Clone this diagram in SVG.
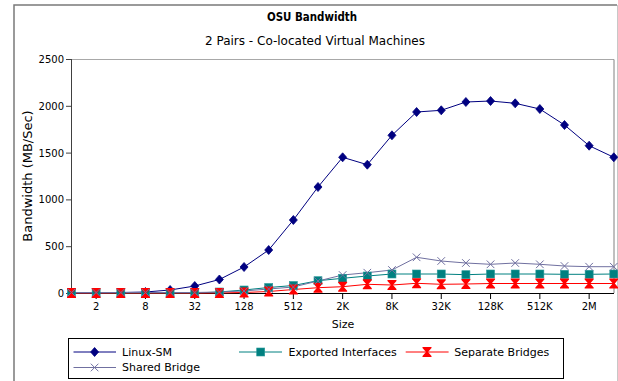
<svg xmlns="http://www.w3.org/2000/svg" xmlns:xlink="http://www.w3.org/1999/xlink" width="618" height="381" viewBox="0 0 618 381">
<style>
text{font-family:"DejaVu Sans","Liberation Sans",sans-serif;fill:#000}
.title{font-size:12px;font-weight:bold;text-anchor:middle}
.sub{font-size:12px;text-anchor:middle}
.yl{font-size:10px;text-anchor:end}
.xl{font-size:10px;text-anchor:middle}
.at{font-size:11px;text-anchor:middle}
.yt{font-size:13px;text-anchor:middle}
.lg{font-size:11px}
.s1{fill:none;stroke:#000080;stroke-width:1}
.s2{fill:none;stroke:#008080;stroke-width:1}
.s3{fill:none;stroke:#ff0000;stroke-width:1}
.s4{fill:none;stroke:#7070a0;stroke-width:1}
</style>
<defs>
<polygon id="dia" points="0,-4.5 4,0 0,4.5 -4,0" fill="#000080" stroke="#000080" stroke-width="0.8"/>
<rect id="sq" x="-4" y="-4" width="8" height="8" fill="#008080" stroke="#2a9a9a" stroke-width="0.6"/>
<polygon id="hg" points="-4.5,-5 4.5,-5 4.5,-4 1,0 4.5,4 4.5,5 -4.5,5 -4.5,4 -1,0 -4.5,-4" fill="#ff0000"/>
<path id="xx" d="M-3.8,-3.8L3.8,3.8M-3.8,3.8L3.8,-3.8" stroke="#7070a0" stroke-width="1" fill="none"/>
</defs>
<rect x="0" y="0" width="618" height="381" fill="#fff"/>
<g id="frame" fill="none">
<path d="M14,382V5H617" stroke="#7a7a7a" stroke-width="1.5"/>
<line x1="617.5" y1="5" x2="617.5" y2="382" stroke="#c8c8c8" stroke-width="1"/>
</g>
<text class="title" x="312" y="21" textLength="90" lengthAdjust="spacingAndGlyphs">OSU Bandwidth</text>
<text class="sub" x="315" y="45">2 Pairs - Co-located Virtual Machines</text>
<g id="plot">
<line x1="71.5" y1="59.5" x2="614" y2="59.5" stroke="#a8a8a8" stroke-width="1"/>
<line x1="614" y1="59.5" x2="614" y2="293" stroke="#808080" stroke-width="1"/>
<line x1="71.5" y1="59" x2="71.5" y2="293.5" stroke="#404040" stroke-width="1"/>
<line x1="71" y1="293.5" x2="614" y2="293.5" stroke="#000" stroke-width="1"/>
<g stroke="#404040" stroke-width="1">
<line x1="66" y1="59.5" x2="71.5" y2="59.5"/><line x1="66" y1="106.3" x2="71.5" y2="106.3"/><line x1="66" y1="153.1" x2="71.5" y2="153.1"/><line x1="66" y1="199.9" x2="71.5" y2="199.9"/><line x1="66" y1="246.7" x2="71.5" y2="246.7"/><line x1="66" y1="293.5" x2="71.5" y2="293.5"/>
</g>
<g stroke="#000" stroke-width="1">
<line x1="96.15" y1="293" x2="96.15" y2="299"/><line x1="145.45" y1="293" x2="145.45" y2="299"/><line x1="194.75" y1="293" x2="194.75" y2="299"/><line x1="244.05" y1="293" x2="244.05" y2="299"/><line x1="293.35" y1="293" x2="293.35" y2="299"/><line x1="342.65" y1="293" x2="342.65" y2="299"/><line x1="391.95" y1="293" x2="391.95" y2="299"/><line x1="441.25" y1="293" x2="441.25" y2="299"/><line x1="490.55" y1="293" x2="490.55" y2="299"/><line x1="539.85" y1="293" x2="539.85" y2="299"/><line x1="589.15" y1="293" x2="589.15" y2="299"/>
</g>
<text class="yl" x="64" y="63">2500</text>
<text class="yl" x="64" y="110">2000</text>
<text class="yl" x="64" y="157">1500</text>
<text class="yl" x="64" y="203">1000</text>
<text class="yl" x="64" y="250">500</text>
<text class="yl" x="64" y="297">0</text>
<text class="xl" x="96.15" y="310">2</text>
<text class="xl" x="145.45" y="310">8</text>
<text class="xl" x="194.75" y="310">32</text>
<text class="xl" x="244.05" y="310">128</text>
<text class="xl" x="293.35" y="310">512</text>
<text class="xl" x="342.65" y="310">2K</text>
<text class="xl" x="391.95" y="310">8K</text>
<text class="xl" x="441.25" y="310">32K</text>
<text class="xl" x="490.55" y="310">128K</text>
<text class="xl" x="539.85" y="310">512K</text>
<text class="xl" x="589.15" y="310">2M</text>
<text class="at" x="343" y="328">Size</text>
<text class="yt" transform="translate(32,176) rotate(-90)">Bandwidth (MB/Sec)</text>
</g>
<g id="connectors">
<polyline id="linux-sm" class="s1" points="71.5,293 96.15,293 120.8,292.5 145.45,292 170.1,290 194.75,286 219.4,279.5 244.05,267 268.7,250 293.35,220 318,187 342.65,157.3 367.3,164.7 391.95,135.3 416.6,112 441.25,110.3 465.9,102 490.55,101 515.2,103.3 539.85,109 564.5,125 589.15,145.7 613.8,157.3"/>
<polyline id="exported" class="s2" points="71.5,293 96.15,293 120.8,293 145.45,293 170.1,293 194.75,293 219.4,292 244.05,290 268.7,287.5 293.35,285.5 318,280.7 342.65,278.3 367.3,276 391.95,274 416.6,274 441.25,274 465.9,274.7 490.55,274 515.2,274 539.85,274 564.5,274.3 589.15,274.3 613.8,274"/>
<polyline id="separate" class="s3" points="71.5,293 96.15,293 120.8,293 145.45,293 170.1,293 194.75,293 219.4,293 244.05,292.5 268.7,291.5 293.35,289.5 318,287.7 342.65,286.7 367.3,284.3 391.95,285 416.6,283.3 441.25,284.3 465.9,284 490.55,283.5 515.2,283.5 539.85,283.5 564.5,283.5 589.15,283.5 613.8,283.5"/>
<polyline id="shared" class="s4" points="71.5,292.5 96.15,292.5 120.8,292.5 145.45,292.5 170.1,292.5 194.75,292.5 219.4,292 244.05,291 268.7,289 293.35,287 318,281 342.65,275 367.3,272.7 391.95,270 416.6,257.3 441.25,261 465.9,263 490.55,264.3 515.2,263 539.85,264.3 564.5,266 589.15,266.7 613.8,266.7"/>
</g>
<g id="markers-linux-sm">
<use xlink:href="#dia" x="71.5" y="293"/><use xlink:href="#dia" x="96.15" y="293"/><use xlink:href="#dia" x="120.8" y="292.5"/><use xlink:href="#dia" x="145.45" y="292"/><use xlink:href="#dia" x="170.1" y="290"/><use xlink:href="#dia" x="194.75" y="286"/><use xlink:href="#dia" x="219.4" y="279.5"/><use xlink:href="#dia" x="244.05" y="267"/><use xlink:href="#dia" x="268.7" y="250"/><use xlink:href="#dia" x="293.35" y="220"/><use xlink:href="#dia" x="318" y="187"/><use xlink:href="#dia" x="342.65" y="157.3"/><use xlink:href="#dia" x="367.3" y="164.7"/><use xlink:href="#dia" x="391.95" y="135.3"/><use xlink:href="#dia" x="416.6" y="112"/><use xlink:href="#dia" x="441.25" y="110.3"/><use xlink:href="#dia" x="465.9" y="102"/><use xlink:href="#dia" x="490.55" y="101"/><use xlink:href="#dia" x="515.2" y="103.3"/><use xlink:href="#dia" x="539.85" y="109"/><use xlink:href="#dia" x="564.5" y="125"/><use xlink:href="#dia" x="589.15" y="145.7"/><use xlink:href="#dia" x="613.8" y="157.3"/>
</g>
<g id="markers-exported">
<use xlink:href="#sq" x="71.5" y="293"/><use xlink:href="#sq" x="96.15" y="293"/><use xlink:href="#sq" x="120.8" y="293"/><use xlink:href="#sq" x="145.45" y="293"/><use xlink:href="#sq" x="170.1" y="293"/><use xlink:href="#sq" x="194.75" y="293"/><use xlink:href="#sq" x="219.4" y="292"/><use xlink:href="#sq" x="244.05" y="290"/><use xlink:href="#sq" x="268.7" y="287.5"/><use xlink:href="#sq" x="293.35" y="285.5"/><use xlink:href="#sq" x="318" y="280.7"/><use xlink:href="#sq" x="342.65" y="278.3"/><use xlink:href="#sq" x="367.3" y="276"/><use xlink:href="#sq" x="391.95" y="274"/><use xlink:href="#sq" x="416.6" y="274"/><use xlink:href="#sq" x="441.25" y="274"/><use xlink:href="#sq" x="465.9" y="274.7"/><use xlink:href="#sq" x="490.55" y="274"/><use xlink:href="#sq" x="515.2" y="274"/><use xlink:href="#sq" x="539.85" y="274"/><use xlink:href="#sq" x="564.5" y="274.3"/><use xlink:href="#sq" x="589.15" y="274.3"/><use xlink:href="#sq" x="613.8" y="274"/>
</g>
<g id="markers-separate">
<use xlink:href="#hg" x="71.5" y="293"/><use xlink:href="#hg" x="96.15" y="293"/><use xlink:href="#hg" x="120.8" y="293"/><use xlink:href="#hg" x="145.45" y="293"/><use xlink:href="#hg" x="170.1" y="293"/><use xlink:href="#hg" x="194.75" y="293"/><use xlink:href="#hg" x="219.4" y="293"/><use xlink:href="#hg" x="244.05" y="292.5"/><use xlink:href="#hg" x="268.7" y="291.5"/><use xlink:href="#hg" x="293.35" y="289.5"/><use xlink:href="#hg" x="318" y="287.7"/><use xlink:href="#hg" x="342.65" y="286.7"/><use xlink:href="#hg" x="367.3" y="284.3"/><use xlink:href="#hg" x="391.95" y="285"/><use xlink:href="#hg" x="416.6" y="283.3"/><use xlink:href="#hg" x="441.25" y="284.3"/><use xlink:href="#hg" x="465.9" y="284"/><use xlink:href="#hg" x="490.55" y="283.5"/><use xlink:href="#hg" x="515.2" y="283.5"/><use xlink:href="#hg" x="539.85" y="283.5"/><use xlink:href="#hg" x="564.5" y="283.5"/><use xlink:href="#hg" x="589.15" y="283.5"/><use xlink:href="#hg" x="613.8" y="283.5"/>
</g>
<g id="markers-shared">
<use xlink:href="#xx" x="71.5" y="292.5"/><use xlink:href="#xx" x="96.15" y="292.5"/><use xlink:href="#xx" x="120.8" y="292.5"/><use xlink:href="#xx" x="145.45" y="292.5"/><use xlink:href="#xx" x="170.1" y="292.5"/><use xlink:href="#xx" x="194.75" y="292.5"/><use xlink:href="#xx" x="219.4" y="292"/><use xlink:href="#xx" x="244.05" y="291"/><use xlink:href="#xx" x="268.7" y="289"/><use xlink:href="#xx" x="293.35" y="287"/><use xlink:href="#xx" x="318" y="281"/><use xlink:href="#xx" x="342.65" y="275"/><use xlink:href="#xx" x="367.3" y="272.7"/><use xlink:href="#xx" x="391.95" y="270"/><use xlink:href="#xx" x="416.6" y="257.3"/><use xlink:href="#xx" x="441.25" y="261"/><use xlink:href="#xx" x="465.9" y="263"/><use xlink:href="#xx" x="490.55" y="264.3"/><use xlink:href="#xx" x="515.2" y="263"/><use xlink:href="#xx" x="539.85" y="264.3"/><use xlink:href="#xx" x="564.5" y="266"/><use xlink:href="#xx" x="589.15" y="266.7"/><use xlink:href="#xx" x="613.8" y="266.7"/>
</g>
<g id="legend">
<rect x="68.5" y="338.5" width="495" height="40" fill="#fff" stroke="#000" stroke-width="1"/>
<line class="s1" x1="73.5" y1="352" x2="116" y2="352"/><use xlink:href="#dia" x="94.6" y="352"/>
<text class="lg" x="122" y="356">Linux-SM</text>
<line class="s2" x1="239" y1="352" x2="282" y2="352"/><use xlink:href="#sq" x="260.7" y="352"/>
<text class="lg" x="288.5" y="356">Exported Interfaces</text>
<line class="s3" x1="405.7" y1="352" x2="448.6" y2="352"/><use xlink:href="#hg" x="427" y="352"/>
<text class="lg" x="454.3" y="356">Separate Bridges</text>
<line class="s4" x1="73.5" y1="367.5" x2="116" y2="367.5"/><use xlink:href="#xx" x="94.6" y="367.5"/>
<text class="lg" x="122" y="371">Shared Bridge</text>
</g>
</svg>
